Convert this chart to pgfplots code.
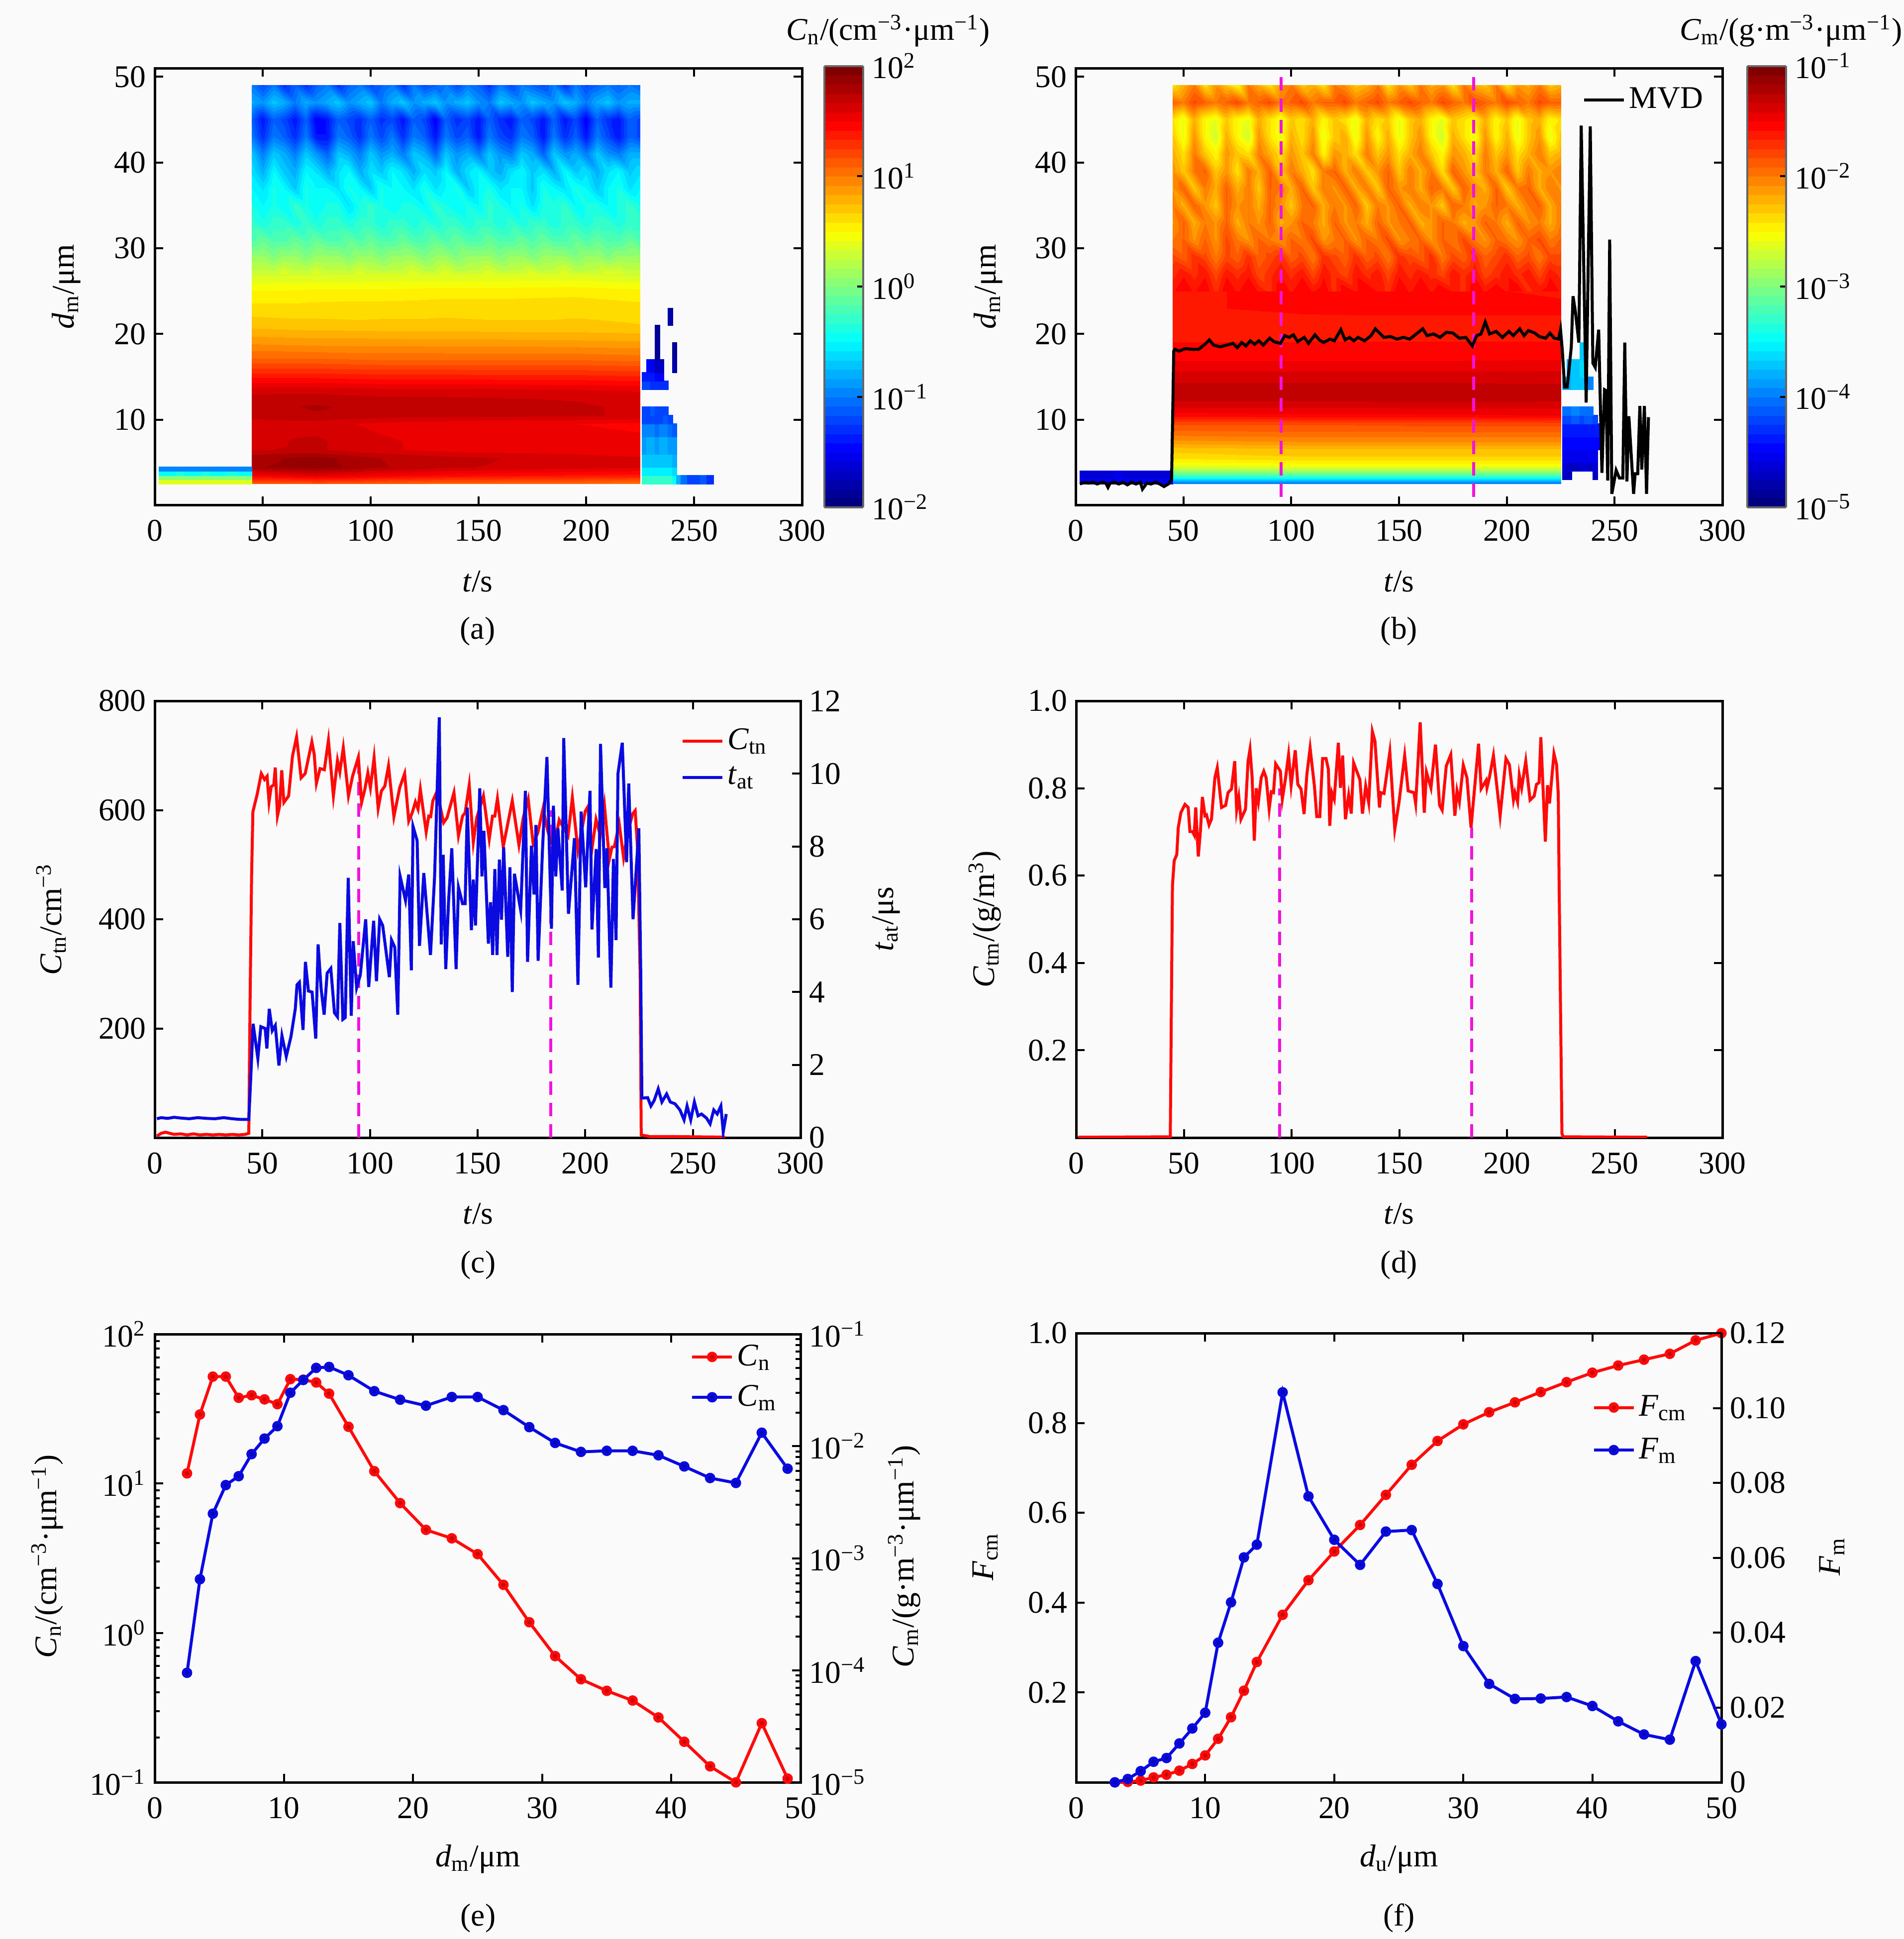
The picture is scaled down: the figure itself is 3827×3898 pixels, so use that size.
\documentclass[border=0pt]{standalone}
\usepackage{fontspec}
\setmainfont{Liberation Serif}
\usepackage{pgfplots}
\pgfplotsset{compat=1.18}
\newcommand\fs{\fontsize{12.7pt}{15pt}\selectfont}
\definecolor{bg}{RGB}{250,250,250}
\definecolor{mg}{RGB}{240,20,220}
\definecolor{bl}{RGB}{10,10,225}
\definecolor{rd}{RGB}{255,10,10}
\pgfplotsset{colormap/jet,colormap={jetd}{samples of colormap=(48 of jet)}}
% heat-map tables: a row is one size bin, read across the time columns
\newtoks\hcoords
\def\hend{\relax}\def\hn{n}
\def\hcols#1{\def\hTs{#1}}
\def\hrow#1#2{\def\hY{#1}\expandafter\hstart\hTs,\relax;#2,\relax;}
\def\hstart#1,#2;#3,#4;{%
  \def\tmpb{#3}%
  \ifx\tmpb\hn
    \global\hcoords\expandafter{\the\hcoords (#1,nan) [0] }%
  \else
    \edef\tmpc{(#1,\hY) [#3] }%
    \global\hcoords\expandafter\expandafter\expandafter{\expandafter\the\expandafter\hcoords\tmpc}%
  \fi
  \def\tmpa{#2}%
  \ifx\tmpa\hend\else\hstart#2;#4;\fi}
\newcommand\heatplot[2][flat]{\edef\hx{\noexpand\addplot[surf,shader=#1,mesh/cols=#2,point meta=explicit,unbounded coords=jump,forget plot] coordinates {\the\hcoords};}\hx\global\hcoords{}}
\newcommand\CS[1]{\textit{C}\textsubscript{#1}}
\newcommand\um{μm}
\def\xtt{xtick={0,50,100,150,200,250,300},xticklabels={0,50,100,150,200,250,300}}
\pgfplotsset{
 panel/.style={scale only axis,anchor=south west,
  axis line style={line width=1pt},
  every tick/.style={black,line width=.8pt},
  major tick length=3.4pt,minor tick length=2pt,
  tick align=inside,
  tick label style={font=\fs},
  xtick pos=both,xticklabel pos=lower,
  xticklabel style={yshift=-2.5pt},
  legend style={draw=none,fill=none,font=\fs,inner sep=0pt,outer sep=0pt,row sep=-1.2pt,anchor=north west,
    nodes={inner sep=1.5pt}},
  legend cell align=left,
  legend image code/.code={\draw[mark repeat=2,mark phase=2,##1] plot coordinates {(0pt,0pt)(8pt,0pt)(16pt,0pt)};},
 },
 cbar/.style 2 args={colormap name=jetd,colormap access=piecewise constant,
  point meta min=#1,point meta max=#2,colorbar},
 cbstyle/.style={colorbar style={at={(1.0346,0.5)},anchor=west,scale only axis,width=15.6pt,height=177.4pt,
   axis line style={line width=.8pt,draw=black!60},
   every tick/.style={black,line width=.8pt},major tick length=2.5pt,tick align=inside,
   ytick pos=right,yticklabel pos=right,tick label style={font=\fs},xticklabel style={yshift=0pt},
   #1}},
}
\begin{document}
\begin{tikzpicture}[x=0.2pt,y=-0.2pt,every node/.style={font=\fs}]
\fill[bg] (0,0) rectangle (3827,3898);
\path[use as bounding box] (0,0) rectangle (3827,3898);

% ---------------- (a)
\begin{axis}[panel,at={(62.2pt,-203pt)},width=260.2pt,height=175.6pt,xmin=0,xmax=300,ymin=0.06,ymax=51,
  \xtt,ytick={10,20,30,40,50},yticklabels={10,20,30,40,50},ytick pos=both,yticklabel pos=left,
  cbar={-2}{2},cbstyle={ytick={-2,-1,0,1,2},yticklabels={10\textsuperscript{−2},10\textsuperscript{−1},10\textsuperscript{0},10\textsuperscript{1},10\textsuperscript{2}}}]
\hcols{45,75,105,135,165,195,225}
\hrow{2.5}{1.10,1.12,1.08,1.05,1.05,1.05,1.0}
\hrow{3.5}{1.50,1.58,1.50,1.45,1.42,1.40,1.38}
\hrow{4.5}{1.82,1.88,1.76,1.68,1.65,1.62,1.6}
\hrow{5.5}{1.80,1.87,1.75,1.70,1.66,1.64,1.6}
\hrow{6.5}{1.66,1.68,1.60,1.55,1.54,1.52,1.5}
\hrow{7.5}{1.65,1.68,1.60,1.55,1.53,1.52,1.5}
\hrow{8.5}{1.64,1.66,1.58,1.52,1.50,1.50,1.5}
\hrow{9.5}{1.60,1.62,1.56,1.52,1.50,1.50,1.48}
\hrow{10.5}{1.72,1.74,1.71,1.70,1.69,1.68,1.65}
\hrow{11.5}{1.72,1.76,1.72,1.70,1.69,1.68,1.65}
\hrow{12.5}{1.70,1.72,1.69,1.68,1.67,1.66,1.65}
\hrow{13.5}{1.62,1.62,1.60,1.60,1.59,1.58,1.56}
\hrow{15}{1.40,1.40,1.38,1.38,1.37,1.37,1.35}
\hrow{17}{1.10,1.10,1.08,1.08,1.08,1.08,1.06}
\hrow{19}{.90,.88,.88,.87,.87,.86,.85}
\hrow{21}{.72,.70,.69,.69,.68,.68,.67}
\hrow{23}{.62,.62,.63,.64,.64,.65,.62}
\hrow{25}{.50,.52,.52,.54,.54,.55,.52}
\hrow{27}{.31,.32,.33,.33,.34,.34,.30}
\heatplot[interp]{7}
\hcols{45,50,55,60,65,70,75,80,85,90,95,100,105,110,115,120,125,130,135,140,145,150,155,160,165,170,175,180,185,190,195,200,205,210,215,220,225}
\hrow{27}{.3,.3,.3,.4,.3,.3,.4,.3,.3,.3,
.4,.3,.3,.3,.3,.4,.3,.3,.4,.3,
.3,.3,.4,.3,.3,.3,.4,.3,.3,.4,
.3,.3,.3,.4,.4,.3,.3}
\hrow{29}{.1,.1,0,.1,.1,0,.1,.1,.1,0,
.1,.1,0,.1,.1,.1,0,.1,.1,0,
.1,.1,.1,0,.1,.1,0,.1,.1,.1,
0,.1,.1,0,.1,.1,.1}
\hrow{31}{-.2,-.1,-.2,-.2,-.1,-.2,-.1,-.2,-.2,-.1,
-.2,-.1,-.2,-.2,-.1,-.2,-.2,-.1,-.2,-.1,
-.2,-.2,-.1,-.2,-.2,-.1,-.2,-.1,-.2,-.2,
-.1,-.2,-.1,-.2,-.2,-.1,-.2}
\hrow{33}{-.3,-.4,-.3,-.3,-.4,-.3,-.4,-.3,-.3,-.4,
-.3,-.3,-.4,-.3,-.3,-.4,-.3,-.4,-.3,-.3,
-.4,-.3,-.3,-.4,-.3,-.4,-.3,-.3,-.4,-.3,
-.3,-.4,-.3,-.3,-.4,-.3,-.3}
\hrow{35}{-.4,-.5,-.4,-.5,-.3,-.4,-.5,-.4,-.4,-.6,
-.4,-.3,-.4,-.5,-.4,-.4,-.5,-.3,-.4,-.5,
-.4,-.5,-.3,-.4,-.5,-.4,-.6,-.4,-.4,-.3,
-.5,-.4,-.4,-.5,-.4,-.3,-.4}
\hrow{37}{-.5,-.6,-.4,-.5,-.7,-.4,-.5,-.5,-.6,-.4,
-.5,-.7,-.4,-.5,-.5,-.6,-.4,-.6,-.5,-.4,
-.7,-.5,-.4,-.6,-.5,-.5,-.7,-.4,-.5,-.6,
-.4,-.5,-.7,-.5,-.4,-.6,-.5}
\hrow{39}{-.6,-.8,-.5,-.7,-.8,-.5,-.6,-.8,-.6,-.5,
-.8,-.6,-.7,-.5,-.6,-.8,-.6,-.7,-.5,-.8,
-.6,-.5,-.7,-.8,-.6,-.5,-.7,-.6,-.8,-.5,
-.7,-.6,-.8,-.6,-.5,-.7,-.6}
\hrow{41}{-.7,-1.0,-.7,-.8,-1.0,-.7,-.9,-1.1,-.7,-.8,
-1.0,-.7,-.9,-.8,-1.0,-.7,-.8,-1.1,-.7,-.9,
-.8,-1.0,-.7,-.9,-1.0,-.7,-.8,-1.1,-.7,-.9,
-.8,-1.0,-.7,-.9,-1.0,-.8,-.8}
\hrow{43}{-1.0,-1.3,-1.0,-1.1,-1.3,-1.0,-1.4,-1.4,-1.0,-1.1,
-1.3,-1.0,-1.2,-1.0,-1.3,-1.0,-1.1,-1.4,-1.0,-1.2,
-1.1,-1.4,-1.0,-1.2,-1.3,-1.0,-1.1,-1.4,-1.0,-1.3,
-1.1,-1.4,-1.0,-1.2,-1.4,-1.1,-1.2}
\hrow{45}{-1.1,-1.4,-1.1,-1.2,-1.4,-1.1,-1.5,-1.4,-1.1,-1.2,
-1.3,-1.1,-1.3,-1.2,-1.4,-1.1,-1.2,-1.5,-1.1,-1.3,
-1.2,-1.4,-1.1,-1.3,-1.4,-1.1,-1.2,-1.4,-1.1,-1.4,
-1.2,-1.5,-1.1,-1.3,-1.4,-1.1,-1.2}
\hrow{47}{-.8,-.9,-.7,-.8,-1.0,-.8,-.9,-.8,-.7,-.9,
-.8,-.7,-1.0,-.8,-.7,-.9,-.8,-.7,-.9,-.8,
-.7,-.9,-1.0,-.7,-.8,-.9,-.7,-.8,-.9,-.7,
-.8,-1.0,-.8,-.7,-.9,-.8,-.8}
\hrow{49}{-1.0,-1.2,-1.0,-1.3,-1.1,-1.3,-1.1,-1.0,-1.3,-1.1,
-1.0,-1.2,-1.1,-1.0,-1.3,-1.0,-1.2,-1.1,-1.0,-1.2,
-1.0,-1.1,-1.3,-1.0,-1.2,-1.0,-1.1,-1.2,-1.0,-1.3,
-1.0,-1.2,-1.1,-1.0,-1.1,-1.0,-1.1}
\heatplot[interp]{37}
\hcols{2,6,10,14,18,22,26,30,34,38,42,45}
\hrow{2.5}{.45,.45,.45,.45,.45,.45,.45,.45,.45,.45,.45,.45}
\hrow{3}{.3,.3,.3,.3,.3,.3,.3,.3,.3,.3,.3,.3}
\hrow{3.5}{-.2,-.2,-.2,-.2,-.2,-.2,-.2,-.2,-.2,-.2,-.2,-.2}
\hrow{4}{-.6,-.7,-.6,-.6,-.7,-.6,-.6,-.7,-.6,-.6,-.7,-.6}
\hrow{4.5}{-1.2,-1.3,-1.2,-1.3,-1.2,-1.2,-1.4,-1.2,-1.3,-1.2,-1.2,-1.2}
\heatplot{12}
\hcols{226,228,230,232,234,236,238,240,242,244,247,250,253,256,259,262,265}
\hrow{2.5}{-.2,-.1,-.2,-.2,-.2,-.2,-.3,-.2,-.5,-.8,-1,-1,-.9,-1,-1.1,-1.2,-1.2}
\hrow{3.5}{-.4,-.4,-.4,-.4,-.4,-.4,-.4,-.4,-.7,-1.2,-1.3,-1.5,-1.3,-1.4,-1.6,n,-1.6}
\hrow{4.5}{-.7,-.7,-.7,-.7,-.7,-.7,-.7,-.7,-.8,n,n,n,n,n,n,n,n}
\hrow{6}{-.8,-.8,-.8,-.8,-.8,-.8,-.8,-.8,-.9,n,n,n,n,n,n,n,n}
\hrow{8}{-.9,-.9,-.8,-.9,-.9,-.8,-.9,-.9,-1.0,n,n,n,n,n,n,n,n}
\hrow{9.5}{-1.1,-1.1,-1.2,-1.1,-1.2,-1.1,-1.1,-1.2,-1.3,n,n,n,n,n,n,n,n}
\hrow{10.5}{-1.2,-1.3,-1.2,-1.2,-1.4,-1.2,-1.2,-1.3,n,n,n,n,n,n,n,n,n}
\hrow{11.5}{-1.1,-1.2,-1.1,-1.1,-1.2,-1.1,-1.2,n,n,n,n,n,n,n,n,n,n}
\hrow{12.5}{n,n,n,n,n,n,n,n,n,n,n,n,n,n,n,n,n}
\hrow{13.5}{-1.1,-1.2,-1.2,-1.2,-1.2,-1.2,-1.2,-1.3,n,n,n,n,n,n,n,n,n}
\hrow{14.5}{-1.3,-1.3,-1.3,-1.4,-1.4,-1.3,-1.5,n,n,n,n,n,n,n,n,n,n}
\hrow{15.5}{-1.4,-1.4,-1.4,-1.5,-1.6,-1.7,n,-1.8,-1.8,n,n,n,n,n,n,n,n}
\hrow{17}{n,-1.6,-1.6,-1.8,-1.8,-1.7,n,-1.8,-1.8,n,n,n,n,n,n,n,n}
\hrow{19}{n,n,n,-1.9,-1.9,n,n,-1.9,-1.9,n,n,n,n,n,n,n,n}
\hrow{21}{n,n,n,-1.9,-1.9,n,-1.8,-1.8,n,n,n,n,n,n,n,n,n}
\hrow{23}{n,n,n,n,n,n,-1.8,-1.8,n,n,n,n,n,n,n,n,n}
\heatplot{17}
\end{axis}
\node at (1785,62) {\CS{n}/(cm\textsuperscript{−3}·\um\textsuperscript{−1})};
\node at (960,1169) {\textit{t}/s};
\node[rotate=90] at (133,576) {\textit{d}\textsubscript{m}/\um};
\node at (960,1269) {(a)};

% ---------------- (b)
\begin{axis}[panel,at={(432.4pt,-203pt)},width=260pt,height=175.6pt,xmin=0,xmax=300,ymin=0.06,ymax=51,
  \xtt,ytick={10,20,30,40,50},yticklabels={10,20,30,40,50},ytick pos=both,yticklabel pos=left,
  cbar={-5}{-1},cbstyle={at={(1.0385,0.5)},ytick={-5,-4,-3,-2,-1},yticklabels={10\textsuperscript{−5},10\textsuperscript{−4},10\textsuperscript{−3},10\textsuperscript{−2},10\textsuperscript{−1}}},
  legend style={at={(0.784,0.964)}}]
\hcols{45,105,165,225}
\hrow{2.5}{-4.1,-4.1,-4.1,-4.1}
\hrow{3.5}{-3.2,-3.2,-3.2,-3.2}
\hrow{4.5}{-2.65,-2.6,-2.6,-2.6}
\hrow{5.5}{-2.4,-2.35,-2.35,-2.35}
\hrow{6.5}{-2.3,-2.27,-2.27,-2.27}
\hrow{7.5}{-2.1,-2.07,-2.07,-2.07}
\hrow{8.5}{-1.95,-1.93,-1.93,-1.93}
\hrow{9.5}{-1.82,-1.82,-1.8,-1.8}
\hrow{10.5}{-1.55,-1.52,-1.52,-1.5}
\hrow{11.5}{-1.41,-1.41,-1.4,-1.4}
\hrow{12.5}{-1.30,-1.30,-1.29,-1.3}
\hrow{13.5}{-1.29,-1.29,-1.28,-1.3}
\hrow{15}{-1.37,-1.37,-1.37,-1.37}
\hrow{17}{-1.51,-1.51,-1.51,-1.5}
\hrow{19}{-1.58,-1.58,-1.58,-1.58}
\hrow{21}{-1.65,-1.63,-1.62,-1.62}
\hrow{23}{-1.6,-1.56,-1.56,-1.56}
\hrow{25}{-1.6,-1.56,-1.56,-1.6}
\heatplot[interp]{4}
\hcols{45,50,55,60,65,70,75,80,85,90,95,100,105,110,115,120,125,130,135,140,145,150,155,160,165,170,175,180,185,190,195,200,205,210,215,220,225}
\hrow{25}{-1.6,-1.5,-1.6,-1.5,-1.7,-1.5,-1.6,-1.5,-1.6,-1.7,
-1.5,-1.6,-1.5,-1.6,-1.5,-1.7,-1.5,-1.6,-1.5,-1.6,
-1.7,-1.5,-1.6,-1.5,-1.6,-1.5,-1.6,-1.7,-1.5,-1.6,
-1.5,-1.6,-1.5,-1.7,-1.6,-1.5,-1.6}
\hrow{27}{-1.7,-1.6,-1.7,-1.6,-1.8,-1.6,-1.7,-1.6,-1.8,-1.7,
-1.6,-1.7,-1.6,-1.8,-1.6,-1.7,-1.8,-1.6,-1.7,-1.6,
-1.8,-1.6,-1.7,-1.6,-1.7,-1.8,-1.6,-1.7,-1.6,-1.8,
-1.7,-1.6,-1.7,-1.6,-1.8,-1.6,-1.7}
\hrow{29}{-1.8,-1.9,-1.7,-1.8,-2.0,-1.8,-1.9,-1.7,-1.9,-1.8,
-1.7,-1.9,-1.8,-2.0,-1.7,-1.8,-1.9,-1.7,-1.9,-1.8,
-2.0,-1.7,-1.8,-1.9,-1.7,-2.0,-1.8,-1.9,-1.7,-1.9,
-1.8,-1.7,-1.9,-1.8,-2.0,-1.8,-1.8}
\hrow{31}{-2.0,-1.9,-2.1,-1.9,-2.1,-1.8,-2.0,-2.1,-1.9,-2.0,
-2.1,-1.9,-2.0,-1.8,-2.1,-2.0,-1.9,-2.1,-1.9,-2.0,
-1.8,-2.1,-2.0,-1.9,-2.1,-1.9,-2.0,-1.8,-2.0,-2.1,
-1.9,-2.0,-2.1,-1.9,-1.8,-2.0,-1.9}
\hrow{33}{-2.1,-1.9,-2.2,-2.0,-2.1,-1.9,-2.2,-2.0,-2.1,-1.9,
-2.2,-2.1,-1.9,-2.0,-2.2,-1.9,-2.1,-2.0,-2.2,-1.9,
-2.1,-2.0,-1.9,-2.2,-2.1,-1.9,-2.0,-2.2,-2.1,-1.9,
-2.0,-2.2,-1.9,-2.1,-2.0,-2.2,-2.0}
\hrow{35}{-2.0,-2.2,-1.9,-2.1,-2.3,-1.9,-2.1,-2.0,-2.2,-1.9,
-2.1,-2.3,-2.0,-1.9,-2.2,-2.0,-2.1,-1.9,-2.3,-2.0,
-2.1,-1.9,-2.2,-2.0,-2.1,-2.3,-1.9,-2.0,-2.2,-2.1,
-1.9,-2.0,-2.2,-2.0,-1.9,-2.2,-2.0}
\hrow{37}{-2.1,-1.9,-2.3,-2.0,-2.2,-1.9,-2.2,-2.0,-2.3,-1.9,
-2.0,-2.2,-1.9,-2.3,-2.0,-2.1,-1.9,-2.2,-2.0,-2.3,
-1.9,-2.1,-2.0,-2.2,-1.9,-2.0,-2.3,-1.9,-2.1,-2.2,
-1.9,-2.3,-2.0,-1.9,-2.2,-2.0,-2.1}
\hrow{39}{-2.1,-2.3,-2.0,-1.9,-2.3,-2.1,-2.4,-2.0,-2.2,-1.9,
-2.3,-2.0,-2.2,-2.4,-2.0,-1.9,-2.2,-2.0,-2.3,-2.1,
-1.9,-2.3,-2.0,-2.2,-2.0,-2.4,-1.9,-2.1,-2.3,-2.0,
-2.2,-1.9,-2.3,-2.0,-2.2,-2.1,-2.0}
\hrow{41}{-2.2,-2.4,-2.0,-2.3,-2.5,-2.1,-2.3,-2.4,-2.0,-2.2,
-2.4,-2.1,-2.3,-2.0,-2.5,-2.1,-2.2,-2.4,-2.0,-2.3,
-2.1,-2.4,-2.2,-2.0,-2.3,-2.5,-2.1,-2.2,-2.4,-2.0,
-2.3,-2.1,-2.4,-2.2,-2.0,-2.3,-2.2}
\hrow{43}{-2.3,-2.6,-2.1,-2.5,-2.7,-2.2,-2.5,-2.7,-2.1,-2.4,
-2.6,-2.2,-2.4,-2.1,-2.6,-2.3,-2.2,-2.6,-2.1,-2.5,
-2.2,-2.6,-2.3,-2.1,-2.5,-2.7,-2.2,-2.4,-2.6,-2.1,
-2.5,-2.2,-2.6,-2.3,-2.1,-2.6,-2.3}
\hrow{45}{-2.4,-2.6,-2.2,-2.5,-2.6,-2.3,-2.5,-2.6,-2.2,-2.4,
-2.6,-2.3,-2.4,-2.2,-2.5,-2.3,-2.4,-2.6,-2.2,-2.4,
-2.3,-2.6,-2.3,-2.2,-2.5,-2.6,-2.3,-2.4,-2.5,-2.2,
-2.5,-2.3,-2.6,-2.3,-2.2,-2.5,-2.4}
\hrow{47}{-1.9,-2.0,-1.8,-1.9,-2.0,-1.9,-1.8,-2.0,-1.9,-1.8,
-2.0,-1.9,-1.8,-2.0,-1.9,-1.9,-1.8,-2.0,-1.9,-1.8,
-2.0,-1.9,-1.8,-1.9,-2.0,-1.8,-1.9,-2.0,-1.8,-1.9,
-2.0,-1.8,-1.9,-2.0,-1.8,-1.9,-1.9}
\hrow{49}{-2.4,-2.2,-2.0,-2.4,-2.1,-2.3,-2.5,-2.0,-2.2,-2.4,
-2.1,-2.0,-2.3,-2.2,-2.4,-2.0,-2.1,-2.3,-2.2,-2.0,
-2.4,-2.1,-2.3,-2.0,-2.2,-2.1,-2.4,-2.0,-2.2,-2.3,
-2.0,-2.4,-2.1,-2.2,-2.0,-2.3,-2.2}
\heatplot[interp]{37}
\hcols{2,6,10,14,18,22,26,30,34,38,42,45}
\hrow{2.5}{-4.5,-4.5,-4.5,-4.5,-4.5,-4.5,-4.5,-4.5,-4.5,-4.5,-4.5,-4.5}
\hrow{3.2}{-4.6,-4.5,-4.6,-4.6,-4.5,-4.6,-4.5,-4.6,-4.6,-4.5,-4.6,-4.6}
\hrow{4}{-4.6,-4.7,-4.6,-4.7,-4.6,-4.6,-4.7,-4.7,-4.6,-4.7,-4.6,-4.6}
\heatplot{12}
\hcols{226,228,230,232,234,236,238,240,242,243}
\hrow{3}{-4.7,-4.7,-4.7,n,n,n,n,-4.7,-4.7,n}
\hrow{4}{-4.7,-4.7,-4.7,-4.7,-4.8,-4.6,-4.7,-4.7,-4.7,n}
\hrow{5}{-4.6,-4.6,-4.7,-4.6,-4.6,-4.6,-4.7,-4.6,-4.6,n}
\hrow{6.5}{-4.5,-4.5,-4.5,-4.5,-4.6,-4.5,-4.5,-4.5,-4.5,-4.5}
\hrow{8}{-4.5,-4.4,-4.5,-4.5,-4.4,-4.5,-4.5,-4.5,-4.5,-4.5}
\hrow{9.5}{-4.2,-4.4,-4.3,-4.1,-4.4,-4.2,-4.3,-4.2,-4.3,-4.3}
\hrow{10.5}{-4.1,-4.0,-4.1,-4.0,-4.1,-4.1,-4.0,-4.1,-4.2,n}
\hrow{11.5}{-4.0,-4.0,-4.0,-3.9,-4.0,-4.0,-4.0,-4.1,n,n}
\hrow{12.5}{n,n,n,n,n,n,n,n,n,n}
\hrow{13.5}{-3.9,-3.9,-3.8,-3.9,-3.8,-3.8,-3.9,-4.1,n,n}
\hrow{15}{-3.7,-3.8,-3.6,-3.7,-3.6,-3.6,-3.8,-4.1,-4.2,n}
\hrow{17}{n,-4.0,-3.8,-3.9,-3.6,-3.6,n,n,-4.4,-4.4}
\hrow{19}{n,n,n,n,-3.7,-3.8,n,n,n,n}
\heatplot{10}
\addplot[mg,line width=1.2pt,dash pattern=on 5.4pt off 3.2pt,forget plot] coordinates {(95.3,1)(95.3,50)};
\addplot[mg,line width=1.2pt,dash pattern=on 5.4pt off 3.2pt,forget plot] coordinates {(184.5,1)(184.5,50)};
\addplot[black,line width=1.2pt] coordinates {
(2,2.5)(4,2.7)(6,2.6)(8,2.7)(10,2.5)(12,2.7)(14,2.6)(15,2.1)(16,2.6)(18,2.7)(20,2.5)(22,2.7)(24,2.4)(26,2.7)(28,2.5)(30,2.7)(31,1.9)(33,2.6)(35,2.5)(37,2.7)(39,2.5)(41,2.2)(43,2.5)(44.5,3.0)
(45.5,18.0)(46,18.2)(48,18.0)(51,18.3)(54,18.2)(57,18.2)(60,18.8)(62,19.3)(64,18.7)(67,18.5)(70,18.7)(73,18.9)(75,18.4)(77,19.0)(79,18.6)(81,19.2)(83,18.8)(85,19.2)(87,18.7)(90,19.5)(92,19.1)(95,18.9)(97,19.8)(99,19.6)(101,19.9)(103,19.1)(106,19.6)(108,18.9)(111,19.9)(113,19.3)(115,19.0)(118,19.4)(120,19.2)(123,20.5)(125,19.3)(127,19.6)(129,19.2)(131,19.6)(134,19.2)(137,19.8)(139,20.6)(141,20.1)(143,19.6)(146,19.7)(149,19.4)(152,19.6)(155,19.4)(158,20.0)(161,20.6)(163,19.8)(166,20.0)(169,19.6)(172,20.2)(175,20.1)(178,19.5)(181,19.6)(184,18.6)(186,19.8)(188,20.0)(190,21.4)(192,20.0)(195,20.3)(198,19.6)(201,20.3)(203,19.8)(206,20.6)(208,19.8)(210,20.4)(213,20.1)(215,19.7)(218,19.5)(220,20.1)(222,19.5)(224,19.4)(224.9,20.5)
(225.7,18.2)(226.8,13.8)(228,13.8)(229.9,18.5)(230.7,24.4)(231.8,22.6)(233.4,19)(234.5,44.3)(236.8,12)(238.7,44.2)(239.9,16.6)(241,16.1)(242.6,20.5)(244.1,3.8)(245.3,13.5)(246,13.4)(246.8,2.9)(247.7,31)(248.7,1.35)(250.7,4.1)(252.2,3.2)(253.8,3.2)(254.7,19)(255.7,2.8)(256.6,10.4)(258.8,1.35)(259.5,3.7)(260.7,3.7)(261.7,11.6)(262.6,4.2)(263.8,11.6)(264.8,1.35)(265.7,10.3)};
\addlegendentry{MVD}
\end{axis}
\node at (3600,62) {\CS{m}/(g·m\textsuperscript{−3}·\um\textsuperscript{−1})};
\node at (2812,1169) {\textit{t}/s};
\node[rotate=90] at (1986,576) {\textit{d}\textsubscript{m}/\um};
\node at (2812,1269) {(b)};

% ---------------- (c)
\begin{axis}[panel,at={(62.2pt,-457.4pt)},width=259.6pt,height=175.6pt,xmin=0,xmax=300,ymin=0,ymax=800,
  \xtt,ytick={200,400,600,800},yticklabels={200,400,600,800},ytick pos=left]
\addplot[mg,line width=1.2pt,dash pattern=on 5.4pt off 3.2pt] coordinates {(94.8,0)(94.8,690)};
\addplot[mg,line width=1.2pt,dash pattern=on 5.4pt off 3.2pt] coordinates {(184,0)(184,600)};
\addplot[rd,line width=1.2pt] coordinates {
(1,3)(3,8)(5,10)(7,8)(9,6)(12,7)(15,5)(18,7)(21,5)(24,6)(27,5)(30,6)(33,5)(36,6)(39,5)(42,6)(43.7,8)(44.3,250)(45,480)(45.6,597)(47.6,629)(49.5,667)(51,656)(52.2,662)(53.1,615)(54.1,643)(55.3,646)(56,678)(57,589)(58,607)(59,673)(60,614)(62.2,626)(64,699)(65.9,734)(68,659)(69.9,667)(73,725)(74.1,702)(75.1,649)(76.8,676)(78.8,674)(80.7,728)(83,626)(84.9,691)(86,670)(87.6,714)(90,626)(91.9,662)(94.6,697)(96.1,614)(97.6,638)(99,668)(100.2,641)(101.9,696)(103.8,603)(105.3,635)(106.9,644)(108.6,681)(111.1,588)(113.8,641)(116.1,667)(118,580)(119.6,595)(121.1,615)(122.3,602)(123.4,638)(126.1,560)(127.3,589)(128.2,588)(129.2,617)(131.1,634)(134.2,577)(135.8,586)(139,632)(141.1,553)(143,589)(144.2,595)(146.1,646)(148,541)(149.6,586)(152.7,626)(155.4,547)(156.9,589)(158,589)(159.2,621)(161.9,533)(166.1,617)(169.2,536)(171.2,586)(173.5,620)(175.8,538)(178,559)(180.4,603)(182.7,560)(185.4,530)(187.9,582)(192,553)(194,623)(196.6,526)(200,598)(201.2,606)(203.1,529)(205,583)(207,553)(208.9,609)(211.2,510)(212.4,532)(213.5,533)(215.8,574)(217.8,513)(219.7,559)(222,593)(223.2,599)(224.3,529)(225.5,300)(226,5)(230,2)(240,2)(265,1)};
\end{axis}
\begin{axis}[panel,at={(62.2pt,-457.4pt)},width=259.6pt,height=175.6pt,xmin=0,xmax=300,ymin=0,ymax=12,
  hide x axis,ytick={0,2,4,6,8,10,12},yticklabels={0,2,4,6,8,10,12},ytick pos=right,yticklabel pos=right,
  legend style={at={(0.815,0.945)},row sep=2.3pt}]
\addlegendimage{rd,line width=1.2pt}\addlegendentry{\CS{tn}}
\addlegendimage{bl,line width=1.2pt}\addlegendentry{\textit{t}\textsubscript{at}}
\addplot[bl,line width=1.2pt,forget plot] coordinates {
(1,.52)(3,.55)(6,.53)(9,.56)(12,.54)(16,.52)(20,.55)(24,.53)(28,.52)(32,.55)(36,.52)(40,.50)(43.7,.5)(44.5,1.5)(45.7,3.13)(47.9,2.18)(49.3,3.05)(51.3,3.0)(52.1,2.45)(53.2,3.54)(54.6,2.94)(56,3.08)(57.7,1.98)(59.1,2.8)(61.1,2.23)(63.3,2.78)(65.3,3.54)(66.1,4.2)(67.2,4.27)(68.9,2.96)(70,4.83)(71.4,4.03)(73.1,4.0)(74.8,2.72)(75.9,5.31)(77.3,4.09)(78.7,3.38)(80.1,4.52)(81.8,4.65)(83.5,3.43)(84.9,3.32)(86,5.9)(87.4,3.25)(88.5,3.3)(89.9,7.14)(91.3,3.35)(92.2,5.4)(93.8,4.12)(95.5,4.47)(98,6.0)(99.4,4.14)(101.7,5.96)(103,4.3)(104.5,6.0)(105.9,5.83)(109,4.41)(110,5.43)(111.5,5.23)(112.9,3.38)(114,7.18)(116.5,6.52)(118,7.23)(119.2,4.6)(120,8.55)(121.9,8.16)(123,5.27)(125,7.27)(128.1,5.02)(130,7.16)(132.2,11.55)(133.1,5.31)(134,7.77)(135.2,4.63)(136.5,6.5)(138,7.95)(140,4.63)(141.1,6.88)(143,6.43)(144.2,6.43)(145.2,9.07)(147.1,5.70)(148,7.09)(149,5.83)(151,9.6)(152,7.18)(152.9,8.43)(155,5.33)(156,6.47)(157,5.02)(158,7.38)(159,5.02)(160.1,7.64)(161.1,5.99)(162.1,7.98)(164,4.97)(165,7.43)(166.1,4.0)(167.1,7.25)(170,6.25)(172.2,9.53)(173.2,4.83)(175,8.02)(176.2,6.68)(177.1,8.59)(178.1,4.86)(180.2,8.0)(182.2,10.46)(184.3,5.74)(185.2,9.12)(186.3,7.18)(187.3,8.5)(189.3,6.79)(190,10.98)(192.2,6.15)(195,8.23)(196.6,4.2)(198.1,8.96)(200.2,6.88)(202.2,9.53)(203.1,5.72)(205.1,7.93)(206.1,4.95)(207.1,10.82)(209.1,6.86)(210.1,7.95)(211.9,4.12)(213.1,7.66)(214.3,5.43)(215.2,10.0)(217.2,10.85)(219.2,7.57)(220.2,9.73)(222.2,6.0)(224.9,8.5)(225.8,4.4)(226.3,1.09)(227.2,1.09)(229,1.1)(230.5,.87)(232,1.02)(233.9,1.34)(235.6,.98)(237.8,1.2)(239.5,.98)(241.7,.93)(244,.76)(245.9,.49)(247.3,.87)(249,.49)(250.7,.98)(252.4,.6)(254,.65)(256.3,.54)(258,.38)(259.7,.76)(261.3,.65)(263,.87)(264.1,.16)(265.5,.65)};
\end{axis}
\node at (961,2440) {\textit{t}/s};
\node[rotate=90] at (103,1848) {\CS{tn}/cm\textsuperscript{−3}};
\node[rotate=90] at (1781,1848) {\textit{t}\textsubscript{at}/μs};
\node at (961,2543) {(c)};

% ---------------- (d)
\begin{axis}[panel,at={(432.6pt,-457.4pt)},width=259.8pt,height=175.6pt,xmin=0,xmax=300,ymin=0,ymax=1,
  \xtt,ytick={0.2,0.4,0.6,0.8,1},yticklabels={0.2,0.4,0.6,0.8,1.0},ytick pos=both,yticklabel pos=left]
\addplot[mg,line width=1.2pt,dash pattern=on 5.4pt off 3.2pt] coordinates {(94.5,0)(94.5,.8)};
\addplot[mg,line width=1.2pt,dash pattern=on 5.4pt off 3.2pt] coordinates {(183.7,0)(183.7,.71)};
\addplot[rd,line width=1.2pt] coordinates {
(1,.001)(43.7,.002)(44.2,.3)(44.7,.577)(45.5,.634)(46.7,.648)(47.4,.71)(48.6,.744)(50.5,.763)(52,.756)(52.8,.701)(54,.701)(54.8,.693)(55.5,.756)(56.7,.644)(57.7,.703)(58.6,.78)(59.8,.737)(60.5,.739)(61.7,.716)(62.8,.729)(64.4,.824)(65.5,.847)(67.5,.756)(69.4,.761)(70.5,.790)(72.1,.798)(73.6,.862)(74.5,.75)(75.5,.78)(76.5,.729)(78.6,.752)(79.8,.862)(80.7,.889)(81.7,.824)(82.7,.68)(83.6,.8)(84.6,.769)(85.9,.824)(87.1,.839)(88.2,.824)(89.6,.752)(90.6,.792)(91.6,.79)(92.6,.856)(94.8,.839)(95.7,.775)(97.1,.82)(98.6,.877)(99.8,.807)(101.7,.887)(102.9,.809)(104.4,.798)(105.8,.741)(107.1,.832)(108.6,.892)(110.6,.805)(111.7,.735)(113.1,.735)(114.4,.868)(116,.868)(117.1,.843)(117.7,.714)(118.7,.79)(119.8,.775)(121.7,.904)(122.7,.801)(123.7,.875)(125,.729)(126.5,.784)(127.7,.742)(128.8,.858)(131.7,.82)(132.9,.742)(134.4,.805)(135.8,.767)(137.5,.930)(138.7,.908)(140.8,.756)(141.4,.79)(142.9,.788)(145.6,.883)(147.9,.706)(149.9,.769)(152.5,.875)(154.1,.794)(156.8,.790)(157.6,.765)(159.7,.951)(161.6,.744)(162.6,.837)(164.7,.801)(166.8,.900)(168.7,.761)(169.9,.75)(171.8,.851)(173.9,.877)(175.8,.737)(176.8,.794)(177.9,.769)(179.7,.853)(181.4,.824)(183.3,.71)(186.8,.902)(188,.799)(190.3,.818)(190.7,.801)(191.8,.824)(193.7,.875)(196.8,.737)(199.5,.868)(201.1,.854)(203,.773)(203.7,.79)(204.9,.769)(205.7,.83)(206.8,.801)(208.7,.862)(210.7,.773)(212.6,.782)(213.7,.809)(214.9,.813)(215.7,.917)(217.8,.678)(218.8,.807)(219.7,.765)(221.8,.879)(223,.854)(223.8,.786)(224.2,.577)(225.5,.01)(226,.002)(265,.001)};
\end{axis}
\node at (2812,2440) {\textit{t}/s};
\node[rotate=90] at (1980,1848) {\CS{tm}/(g/m\textsuperscript{3})};
\node at (2812,2543) {(d)};

% ---------------- (e)
\begin{axis}[panel,at={(62.2pt,-716.6pt)},width=259.6pt,height=180.2pt,xmin=0,xmax=50,ymode=log,ymin=0.1,ymax=100,
  xtick={0,10,20,30,40,50},xticklabels={0,10,20,30,40,50},
  ytick={0.1,1,10,100},yticklabels={10\textsuperscript{−1},10\textsuperscript{0},10\textsuperscript{1},10\textsuperscript{2}},ytick pos=left]
\addplot[rd,line width=1.2pt,mark=*,mark size=1.5pt,mark options={fill=rd!80!black,draw=rd}] coordinates {
(2.5,11.7)(3.5,29)(4.5,52)(5.5,52)(6.5,37.5)(7.5,39)(8.5,36.6)(9.5,34)(10.5,50)(11.5,49.6)(12.5,47.5)(13.5,40)(15,24)(17,12.1)(19,7.4)(21,4.9)(23,4.3)(25,3.37)(27,2.1)(29,1.18)(31,.70)(33,.49)(35,.41)(37,.353)(39,.272)(41,.187)(43,.128)(45,.1)(47,.249)(49,.106)};
\end{axis}
\begin{axis}[panel,at={(62.2pt,-716.6pt)},width=259.6pt,height=180.2pt,xmin=0,xmax=50,ymode=log,ymin=1e-5,ymax=0.1,
  hide x axis,ytick={1e-5,1e-4,1e-3,1e-2,1e-1},yticklabels={10\textsuperscript{−5},10\textsuperscript{−4},10\textsuperscript{−3},10\textsuperscript{−2},10\textsuperscript{−1}},ytick pos=right,yticklabel pos=right,
  legend style={at={(0.83,0.985)},row sep=3.3pt}]
\addlegendimage{rd,line width=1.2pt,mark=*,mark size=1.5pt,mark options={fill=rd!80!black,draw=rd}}\addlegendentry{\CS{n}}
\addlegendimage{bl,line width=1.2pt,mark=*,mark size=1.5pt,mark options={fill=bl!80!black,draw=bl}}\addlegendentry{\CS{m}}
\addplot[bl,line width=1.2pt,mark=*,mark size=1.5pt,mark options={fill=bl!80!black,draw=bl},forget plot] coordinates {
(2.5,9.5e-5)(3.5,6.5e-4)(4.5,2.5e-3)(5.5,4.5e-3)(6.5,5.4e-3)(7.5,8.5e-3)(8.5,1.17e-2)(9.5,1.51e-2)(10.5,3.0e-2)(11.5,3.9e-2)(12.5,5.0e-2)(13.5,5.1e-2)(15,4.3e-2)(17,3.1e-2)(19,2.6e-2)(21,2.3e-2)(23,2.75e-2)(25,2.75e-2)(27,2.1e-2)(29,1.48e-2)(31,1.07e-2)(33,8.9e-3)(35,9.1e-3)(37,9.1e-3)(39,8.3e-3)(41,6.6e-3)(43,5.2e-3)(45,4.7e-3)(47,1.32e-2)(49,6.3e-3)};
\end{axis}
\node at (961,3737) {\textit{d}\textsubscript{m}/\um};
\node[rotate=90] at (95,3129) {\CS{n}/(cm\textsuperscript{−3}·\um\textsuperscript{−1})};
\node[rotate=90] at (1818,3129) {\CS{m}/(g·m\textsuperscript{−3}·\um\textsuperscript{−1})};
\node at (961,3856) {(e)};

% ---------------- (f)
\begin{axis}[panel,at={(432.6pt,-716.6pt)},width=259.4pt,height=180.6pt,xmin=0,xmax=50,ymin=0,ymax=1,clip=false,
  xtick={0,10,20,30,40,50},xticklabels={0,10,20,30,40,50},
  ytick={0.2,0.4,0.6,0.8,1},yticklabels={0.2,0.4,0.6,0.8,1.0},ytick pos=left]
\addplot[rd,line width=1.2pt,mark=*,mark size=1.5pt,mark options={fill=rd!80!black,draw=rd}] coordinates {
(3,0)(4,.001)(5,.004)(6,.011)(7,.017)(8,.026)(9,.041)(10,.060)(11,.097)(12,.145)(13,.204)(14,.268)(16,.373)(18,.450)(20,.514)(22,.573)(24,.640)(26,.707)(28,.760)(30,.797)(32,.824)(34,.846)(36,.869)(38,.891)(40,.912)(42,.928)(44,.941)(46,.954)(48,.984)(50,1.0)};
\end{axis}
\begin{axis}[panel,at={(432.6pt,-716.6pt)},width=259.4pt,height=180.6pt,xmin=0,xmax=50,ymin=0,ymax=.12,clip=false,
  hide x axis,ytick={0,.02,.04,.06,.08,.10,.12},yticklabels={0,0.02,0.04,0.06,0.08,0.10,0.12},ytick pos=right,yticklabel pos=right,
  legend style={at={(0.80,0.87)},row sep=4.3pt}]
\addlegendimage{rd,line width=1.2pt,mark=*,mark size=1.5pt,mark options={fill=rd!80!black,draw=rd}}\addlegendentry{\textit{F}\textsubscript{cm}}
\addlegendimage{bl,line width=1.2pt,mark=*,mark size=1.5pt,mark options={fill=bl!80!black,draw=bl}}\addlegendentry{\textit{F}\textsubscript{m}}
\addplot[bl,line width=1.2pt,mark=*,mark size=1.5pt,mark options={fill=bl!80!black,draw=bl},forget plot] coordinates {
(3,0)(4,.0009)(5,.003)(6,.0055)(7,.0065)(8,.0104)(9,.0144)(10,.0186)(11,.0373)(12,.0481)(13,.0601)(14,.0635)(16,.1042)(18,.0764)(20,.0648)(22,.0581)(24,.0670)(26,.0674)(28,.0530)(30,.0364)(32,.0263)(34,.0223)(36,.0224)(38,.0228)(40,.0204)(42,.0163)(44,.0128)(46,.0114)(48,.0324)(50,.0155)};
\end{axis}
\node at (2812,3737) {\textit{d}\textsubscript{u}/\um};
\node[rotate=90] at (1980,3129) {\textit{F}\textsubscript{cm}};
\node[rotate=90] at (3682,3129) {\textit{F}\textsubscript{m}};
\node at (2812,3856) {(f)};
\end{tikzpicture}
\end{document}
